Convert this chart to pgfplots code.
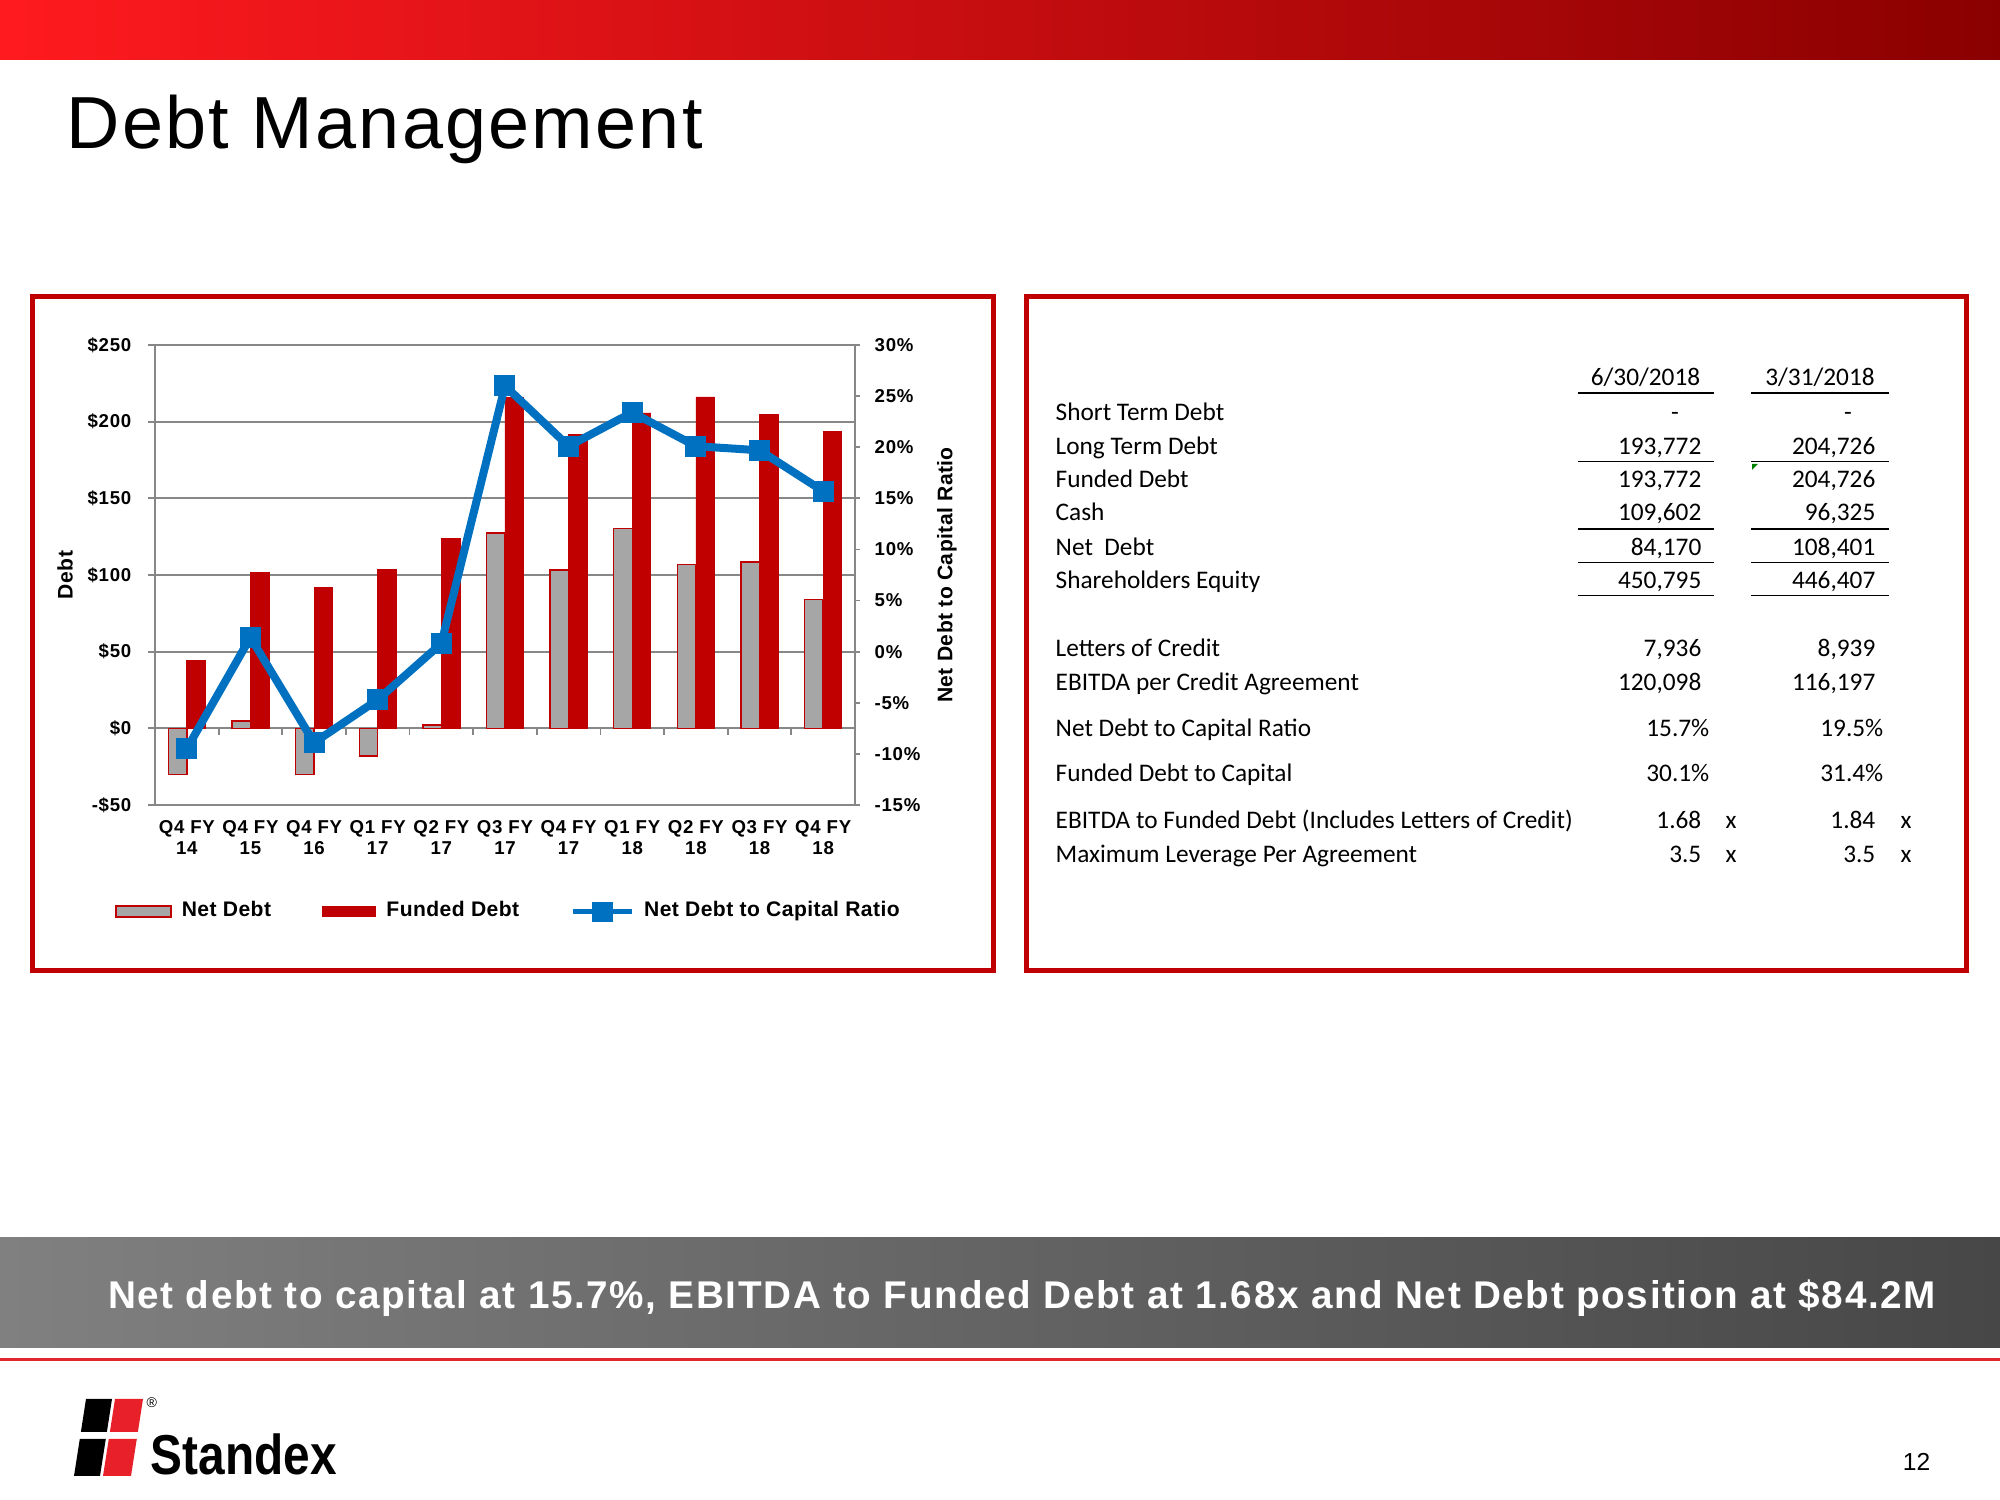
\documentclass[border=0pt]{standalone}
\usepackage{pgfplots}
\usepackage{pgfplotstable}
\pgfplotsset{compat=1.18}
\usepackage{fontspec}
\setmainfont{Liberation Sans}
\newfontfamily\tickfont{Liberation Sans}[LetterSpace=4]
\newfontfamily\legfont{Liberation Sans}[LetterSpace=2]
\newfontfamily\titlefont{Liberation Sans}[LetterSpace=3]
\newfontfamily\bannerfont{Liberation Sans}[LetterSpace=4.2]
\newfontfamily\calib{Carlito}
\definecolor{barRed}{HTML}{C00000}
\definecolor{barGray}{HTML}{A6A6A6}
\definecolor{lineBlue}{HTML}{0070C0}
\definecolor{gridGray}{HTML}{878787}
\definecolor{frameRed}{HTML}{C00000}
\definecolor{topL}{HTML}{FF1A1F}
\definecolor{topR}{HTML}{8A0000}
\definecolor{banL}{HTML}{808080}
\definecolor{banR}{HTML}{474747}
\definecolor{lineRed}{HTML}{E2262D}
\definecolor{logoRed}{HTML}{E8202A}

\pgfplotstableread{
x net funded ratio
0 -30.0 44.1 -9.5
1 4.7 101.6 1.4
2 -30.0 91.7 -8.9
3 -18.0 103.7 -4.7
4 2.2 124.1 0.8
5 127.5 215.6 26.0
6 103.3 191.6 20.1
7 130.5 205.7 23.4
8 106.7 216.1 20.1
9 108.4 204.7 19.7
10 84.2 193.8 15.7
}\chartdata

\newcommand\tabf{\calib\fontsize{7.2}{8.6}\selectfont}
\newcommand\lab[2]{\node[anchor=base west,inner sep=0pt] at (1055,#1) {\tabf #2};}
\newcommand\va[2]{\node[anchor=base east,inner sep=0pt] at (1702,#1) {\tabf #2};}
\newcommand\vb[2]{\node[anchor=base east,inner sep=0pt] at (1876,#1) {\tabf #2};}

\begin{document}
\begin{tikzpicture}[x=0.1mm,y=0.1mm]
\path[use as bounding box] (0,0) rectangle (2000,1500);
% top bar
\shade[left color=topL,right color=topR] (0,1440) rectangle (2000,1500);
% title
\node[anchor=base west,inner sep=0pt] at (66,1351) {\titlefont\fontsize{21}{25}\selectfont Debt Management};
% frames
\draw[frameRed,line width=0.5mm] (32.5,1203) rectangle (993,529);
\draw[frameRed,line width=0.5mm] (1026,1203) rectangle (1966,529);

\begin{axis}[
  at={(15.5mm,69.5mm)}, anchor=south west,
  scale only axis, width=70mm, height=46mm,
  xmin=-0.5, xmax=10.5, ymin=-50, ymax=250,
  ybar=0pt, bar width=1.85mm,
  xtick={0,...,10},
  xticklabels={{Q4 FY\\14},{Q4 FY\\15},{Q4 FY\\16},{Q1 FY\\17},{Q2 FY\\17},{Q3 FY\\17},{Q4 FY\\17},{Q1 FY\\18},{Q2 FY\\18},{Q3 FY\\18},{Q4 FY\\18}},
  major x tick style={draw=none},
  xtick pos=bottom,
  ytick={-50,0,50,100,150,200,250},
  yticklabels={-\$50,\$0,\$50,\$100,\$150,\$200,\$250},
  ytick pos=left, tick align=outside, major tick length=0.7mm,
  major y tick style={draw=gridGray,line width=0.5pt},
  ymajorgrids, grid style={draw=gridGray,line width=0.5pt},
  axis line style={draw=gridGray,line width=0.5pt},
  tick label style={font=\tickfont\bfseries\fontsize{5.3}{6.2}\selectfont},
  xticklabel style={align=center, inner sep=0pt, anchor=north, yshift=-0.75mm},
  yticklabel style={anchor=east, inner sep=0pt, xshift=-1.6mm},
  ylabel={Debt},
  every axis y label/.style={at={(axis description cs:-0.1286,0.5)}, anchor=center, rotate=90, font=\legfont\bfseries\fontsize{6}{7}\selectfont},
]
\addplot[fill=barGray, draw=barRed, line width=0.4pt] table[x=x,y=net] {\chartdata};
\addplot[fill=barRed, draw=barRed, line width=0.2pt] table[x=x,y=funded] {\chartdata};
\pgfplotsinvokeforeach{0.5,1.5,...,9.5}{\draw[gridGray,line width=0.5pt] (axis cs:#1,0) -- ([yshift=-0.7mm]axis cs:#1,0);}
\end{axis}

\begin{axis}[
  at={(15.5mm,69.5mm)}, anchor=south west,
  scale only axis, width=70mm, height=46mm,
  xmin=-0.5, xmax=10.5, ymin=-15, ymax=30,
  axis x line=none, axis y line*=right,
  ytick={-15,-10,-5,0,5,10,15,20,25,30},
  yticklabels={-15\%,-10\%,-5\%,0\%,5\%,10\%,15\%,20\%,25\%,30\%},
  ytick pos=right, tick align=outside, major tick length=0.5mm,
  major y tick style={draw=gridGray,line width=0.5pt},
  axis line style={draw=gridGray,line width=0.5pt},
  tick label style={font=\tickfont\bfseries\fontsize{5.3}{6.5}\selectfont},
  yticklabel style={anchor=west, inner sep=0pt, xshift=1.4mm},
  ylabel={Net Debt to Capital Ratio},
  every axis y label/.style={at={(axis description cs:1.1314,0.5)}, anchor=center, rotate=90, font=\legfont\bfseries\fontsize{6}{7}\selectfont},
  legend style={at={(axis description cs:-0.058,-0.232)}, anchor=west, draw=none, fill=none,
    font=\legfont\bfseries\fontsize{6}{7}\selectfont, inner sep=0pt,
    nodes={inner sep=0pt},
    /tikz/every odd column/.append style={column sep=1.0mm},
    /tikz/every even column/.append style={column sep=5.1mm}},
  legend columns=3,
]
\addlegendimage{legend image code/.code={\draw[fill=barGray,draw=barRed,line width=0.5pt] (0mm,-0.55mm) rectangle (5.5mm,0.55mm);}}
\addlegendentry{Net Debt}
\addlegendimage{legend image code/.code={\fill[barRed] (0mm,-0.5mm) rectangle (5.3mm,0.5mm);}}
\addlegendentry{Funded Debt}
\addplot[lineBlue, line width=0.8mm, mark=square*, mark size=1mm, mark options={fill=lineBlue,draw=lineBlue,line width=0pt},
  legend image code/.code={\draw[lineBlue,line width=0.5mm] (0mm,0mm) -- (5.9mm,0mm);
    \fill[lineBlue] (2.3mm,-0.6mm) rectangle (3.6mm,0.6mm);}]
  table[x=x,y=ratio] {\chartdata};
\addlegendentry{Net Debt to Capital Ratio}
\end{axis}

% table
\node[anchor=base,inner sep=0pt] at (1645.5,1114.3) {\tabf 6/30/2018};
\node[anchor=base,inner sep=0pt] at (1820,1114.3) {\tabf 3/31/2018};
\draw[line width=0.45pt] (1578,1107.1) -- (1714,1107.1);
\draw[line width=0.45pt] (1751,1107.1) -- (1889,1107.1);
\lab{1079.8}{Short Term Debt}
\node[anchor=base,inner sep=0pt] at (1675,1079.8) {\tabf -};
\node[anchor=base,inner sep=0pt] at (1848,1079.8) {\tabf -};
\lab{1045.4}{Long Term Debt}\va{1045.4}{193,772}\vb{1045.4}{204,726}
\draw[line width=0.45pt] (1578,1038.3) -- (1714,1038.3);
\draw[line width=0.45pt] (1751,1038.3) -- (1889,1038.3);
\fill[green!50!black] (1752,1036) -- (1758,1036) -- (1752,1030) -- cycle;
\lab{1012.2}{Funded Debt}\va{1012.2}{193,772}\vb{1012.2}{204,726}
\lab{979.1}{Cash}\va{979.1}{109,602}\vb{979.1}{96,325}
\draw[line width=0.45pt] (1578,970.7) -- (1714,970.7);
\draw[line width=0.45pt] (1751,970.7) -- (1889,970.7);
\lab{944.6}{Net\ \ Debt}\va{944.6}{84,170}\vb{944.6}{108,401}
\draw[line width=0.45pt] (1578,937.5) -- (1714,937.5);
\draw[line width=0.45pt] (1751,937.5) -- (1889,937.5);
\lab{911.5}{Shareholders Equity}\va{911.5}{450,795}\vb{911.5}{446,407}
\draw[line width=0.45pt] (1578,904.3) -- (1714,904.3);
\draw[line width=0.45pt] (1751,904.3) -- (1889,904.3);
\lab{843.9}{Letters of Credit}\va{843.9}{7,936}\vb{843.9}{8,939}
\lab{809.4}{EBITDA per Credit Agreement}\va{809.4}{120,098}\vb{809.4}{116,197}
\lab{763.5}{Net Debt to Capital Ratio}
\node[anchor=base east,inner sep=0pt] at (1710,763.5) {\tabf 15.7\%};
\node[anchor=base east,inner sep=0pt] at (1884,763.5) {\tabf 19.5\%};
\lab{718.9}{Funded Debt to Capital}
\node[anchor=base east,inner sep=0pt] at (1710,718.9) {\tabf 30.1\%};
\node[anchor=base east,inner sep=0pt] at (1884,718.9) {\tabf 31.4\%};
\lab{671.7}{EBITDA to Funded Debt (Includes Letters of Credit)}\va{671.7}{1.68}\vb{671.7}{1.84}
\node[anchor=base,inner sep=0pt] at (1731,671.7) {\tabf x};
\node[anchor=base,inner sep=0pt] at (1906,671.7) {\tabf x};
\lab{637.3}{Maximum Leverage Per Agreement}\va{637.3}{3.5}\vb{637.3}{3.5}
\node[anchor=base,inner sep=0pt] at (1731,637.3) {\tabf x};
\node[anchor=base,inner sep=0pt] at (1906,637.3) {\tabf x};

% banner
\shade[left color=banL,right color=banR] (0,152) rectangle (2000,262);
\node[anchor=base,inner sep=0pt,text=white] at (1022,191) {\bannerfont\bfseries\fontsize{11}{13}\selectfont Net debt to capital at 15.7\%, EBITDA to Funded Debt at 1.68x and Net Debt position at \$84.2M};
\fill[lineRed] (0,138.5) rectangle (2000,141.5);

% logo
\fill[black] (86,101) -- (112,101) -- (106.9,68) -- (80.9,68) -- cycle;
\fill[black] (79.8,61) -- (105.8,61) -- (100,24) -- (74,24) -- cycle;
\fill[logoRed] (115,101) -- (143,101) -- (137.9,68) -- (109.9,68) -- cycle;
\fill[logoRed] (108.8,61) -- (136.8,61) -- (131,24) -- (103,24) -- cycle;
\node[anchor=base west,inner sep=0pt] at (146,92) {\fontsize{4}{5}\selectfont\textregistered};
\node[anchor=base west,inner sep=0pt] at (150,25) {\scalebox{0.85}[1]{\bfseries\fontsize{16}{18}\selectfont Standex}};
% page number
\node[anchor=base east,inner sep=0pt] at (1931,29) {\fontsize{7}{8}\selectfont 12};
\end{tikzpicture}
\end{document}
